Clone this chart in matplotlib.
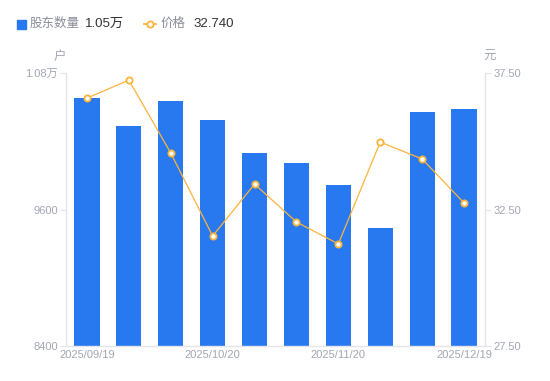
import matplotlib.pyplot as plt
import numpy as np

plt.rcParams['font.family'] = ['Liberation Sans', 'Noto Sans CJK SC']

# 数据
dates = ['2025/09/19', '2025/09/30', '2025/10/10', '2025/10/20', '2025/10/31',
         '2025/11/10', '2025/11/20', '2025/11/30', '2025/12/10', '2025/12/19']
holders = [10580, 10334, 10554, 10387, 10097, 10009, 9815, 9437, 10457, 10484]
prices = [36.58, 37.24, 34.57, 31.53, 33.43, 32.04, 31.24, 34.97, 34.35, 32.74]

bar_color = '#2878f0'
line_color = '#fbb43c'
tick_color = '#a3a6b4'
axis_color = '#e3e5ea'

fig = plt.figure(figsize=(5.5, 3.81), dpi=100)
ax = fig.add_axes([66 / 550, 35 / 381, 419 / 550, 273 / 381])
ax2 = ax.twinx()

x = np.arange(len(dates))
ax.bar(x, holders, width=0.6, color=bar_color, zorder=2)
ax2.plot(x, prices, color=line_color, lw=0.9, marker='o', ms=4.5,
         mfc='white', mec=line_color, mew=1.3, zorder=3)

ax.set_xlim(-0.5, len(dates) - 0.5)
ax.set_ylim(8400, 10800)
ax2.set_ylim(27.5, 37.5)
ax.set_yticks([8400, 9600, 10800])
ax.set_yticklabels(['8400', '9600', '1.08万'])
ax2.set_yticks([27.5, 32.5, 37.5])
ax2.set_yticklabels(['27.50', '32.50', '37.50'])
ax.set_xticks([0, 3, 6, 9])
ax.set_xticklabels([dates[i] for i in [0, 3, 6, 9]])

for a in (ax, ax2):
    for s in a.spines.values():
        s.set_visible(False)
ax.spines['left'].set_visible(True)
ax.spines['bottom'].set_visible(True)
ax2.spines['right'].set_visible(True)
for s in (ax.spines['left'], ax.spines['bottom'], ax2.spines['right']):
    s.set_color(axis_color)
    s.set_linewidth(1)

ax.tick_params(axis='y', colors=axis_color, labelcolor=tick_color, labelsize=8, length=4, pad=2)
ax2.tick_params(axis='y', colors=axis_color, labelcolor=tick_color, labelsize=8, length=4, pad=2)
ax.tick_params(axis='x', length=0, labelcolor=tick_color, labelsize=8, pad=3)

fig.text(60 / 550, 1 - 57 / 381, '户', color=tick_color, fontsize=9, ha='center', va='center')
fig.text(490 / 550, 1 - 57 / 381, '元', color=tick_color, fontsize=9, ha='center', va='center')

# 图例
ly = 1 - 24 / 381
fig.patches.append(plt.Rectangle((17 / 550, ly - 4.5 / 381), 9 / 550, 9 / 381,
                                 transform=fig.transFigure, color=bar_color))
fig.text(30 / 550, ly, '股东数量', color='#8a8d99', fontsize=9, va='center')
fig.text(85 / 550, ly, '1.05万', color='#333333', fontsize=9.5, va='center')
fig.lines.append(plt.Line2D([144 / 550, 156 / 550], [ly, ly], transform=fig.transFigure,
                            color=line_color, lw=1.3))
fig.lines.append(plt.Line2D([150 / 550], [ly], transform=fig.transFigure, ls='none',
                            marker='o', ms=4.5, mfc='white', mec=line_color, mew=1.3))
fig.text(161 / 550, ly, '价格', color='#8a8d99', fontsize=9, va='center')
fig.text(193 / 550, ly, '32.740', color='#333333', fontsize=9.5, va='center')

fig.savefig('out.png', dpi=100)
